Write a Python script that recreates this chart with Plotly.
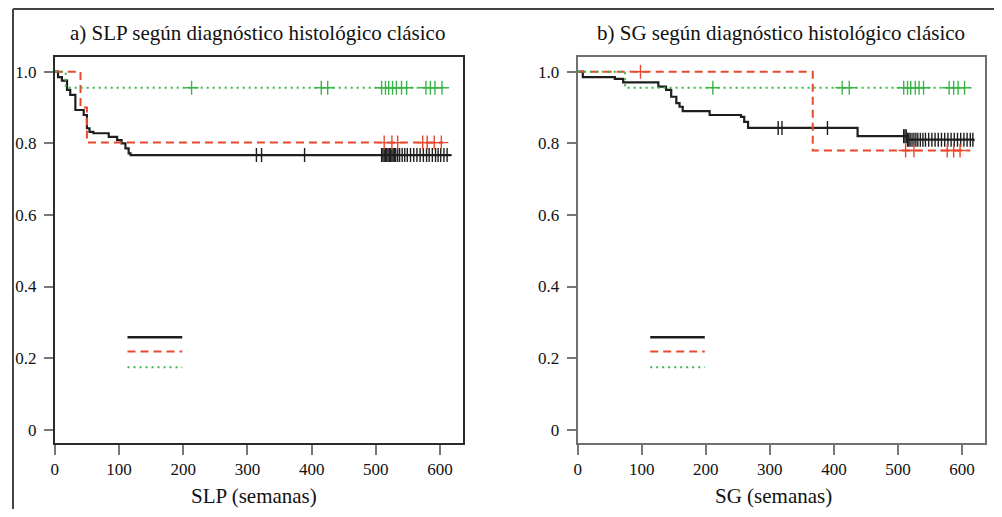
import numpy as np
import plotly.graph_objects as go

FONT = "Liberation Serif"
BLACK = "#1e1e1e"
RED = "#e8492e"
GREEN = "#3bb54a"

# --- SLP (panel a): step times and survival after each step ---
slp_black_t = [0, 5, 11, 19, 24, 32, 45, 50, 54, 60, 84, 97, 104, 110, 115, 118, 618]
slp_black_s = [1.0, 0.985, 0.975, 0.949, 0.935, 0.893, 0.879, 0.842, 0.832, 0.828, 0.818, 0.809, 0.80, 0.786, 0.772, 0.767, 0.767]
slp_black_cens = [314, 322, 389, 509, 511, 513, 515, 517, 519, 521, 523, 525, 527, 529, 531, 534, 537,
                  541, 545, 549, 554, 559, 564, 569, 574, 579, 583, 588, 593, 597, 601, 606, 611]

slp_red_t = [0, 40, 50, 605]
slp_red_s = [1.0, 0.90, 0.802, 0.802]
slp_red_cens = [513, 525, 534, 573, 580, 591, 602]

slp_green_t = [0, 17, 608]
slp_green_s = [1.0, 0.955, 0.955]
slp_green_cens = [213, 415, 425, 509, 515, 520, 526, 532, 540, 548, 578, 585, 592, 603]

# --- SG (panel b) ---
sg_black_t = [0, 8, 58, 71, 126, 138, 146, 154, 159, 164, 206, 255, 260, 266, 437, 515, 618]
sg_black_s = [1.0, 0.985, 0.980, 0.970, 0.958, 0.949, 0.930, 0.912, 0.902, 0.890, 0.879, 0.874, 0.860, 0.843, 0.820, 0.810, 0.806]
sg_black_cens = [313, 319, 390, 509, 511, 513, 515, 517, 519, 522, 525, 528, 531, 535, 539, 543, 548,
                 553, 558, 563, 568, 573, 578, 583, 588, 593, 598, 603, 608, 613, 617]

sg_red_t = [0, 367, 613]
sg_red_s = [1.0, 0.78, 0.78]
sg_red_cens = [98, 512, 525, 577, 587, 597]

sg_green_t = [0, 74, 613]
sg_green_s = [1.0, 0.955, 0.955]
sg_green_cens = [211, 413, 424, 509, 515, 520, 527, 533, 540, 580, 587, 594, 604]

y_ticks = [0, 0.2, 0.4, 0.6, 0.8, 1.0]
y_ticktext = ["0", "0.2", "0.4", "0.6", "0.8", "1.0"]
x_ticks = [0, 100, 200, 300, 400, 500, 600]

# page body adds an 8px margin, so the figure is sized to fit inside the window
OFF = 8
W, H = 1002 - 2 * OFF, 517 - 2 * OFF


def px(x):
    return (x - OFF) / W


def py(y):
    return 1 - (y - OFF) / H


def surv_at(times, surv, t):
    idx = np.searchsorted(np.array(times), np.array(t), side="right") - 1
    return np.array(surv)[idx]


def add_km(fig, times, surv, cens, color, dash, xa, ya, symbol):
    fig.add_trace(go.Scatter(
        x=times, y=surv, mode="lines", line_shape="hv",
        line=dict(color=color, width=2.2 if color == BLACK else 2, dash=dash),
        xaxis=xa, yaxis=ya, showlegend=False, hoverinfo="skip"
    ))
    fig.add_trace(go.Scatter(
        x=cens, y=surv_at(times, surv, cens), mode="markers",
        marker=dict(symbol=symbol, size=10, color=color, line=dict(color=color, width=1.4)),
        xaxis=xa, yaxis=ya, showlegend=False, hoverinfo="skip"
    ))


fig = go.Figure()
add_km(fig, slp_black_t, slp_black_s, slp_black_cens, BLACK, "solid", "x", "y", "line-ns-open")
add_km(fig, slp_red_t, slp_red_s, slp_red_cens, RED, "8px,5px", "x", "y", "cross-thin-open")
add_km(fig, slp_green_t, slp_green_s, slp_green_cens, GREEN, "2px,4px", "x", "y", "cross-thin-open")
add_km(fig, sg_black_t, sg_black_s, sg_black_cens, BLACK, "solid", "x2", "y2", "line-ns-open")
add_km(fig, sg_red_t, sg_red_s, sg_red_cens, RED, "8px,5px", "x2", "y2", "cross-thin-open")
add_km(fig, sg_green_t, sg_green_s, sg_green_cens, GREEN, "2px,4px", "x2", "y2", "cross-thin-open")


def xaxis(dom, frame, anchor):
    return dict(domain=dom, range=[0, 636], anchor=anchor, tickvals=x_ticks, ticks="outside",
                ticklen=10, tickwidth=2, tickcolor="#777", showline=True, linecolor=frame,
                linewidth=2, mirror=True, showgrid=False, zeroline=False,
                tickfont=dict(family=FONT, size=17, color="#111"))


def yaxis(anchor, frame):
    return dict(domain=[py(443), py(57)], range=[-0.037, 1.041], anchor=anchor,
                tickvals=y_ticks, ticktext=y_ticktext, ticks="outside", ticklen=9,
                tickwidth=2, tickcolor="#777", showline=True, linecolor=frame, linewidth=2,
                mirror=True, showgrid=False, zeroline=False, ticklabelstandoff=4,
                tickfont=dict(family=FONT, size=17, color="#111"))


fig.update_layout(
    width=W, height=H,
    margin=dict(l=0, r=0, t=0, b=0),
    paper_bgcolor="white", plot_bgcolor="white",
    xaxis=xaxis([px(51), px(461)], "#2a2a2a", "y"),
    yaxis=yaxis("x", "#2a2a2a"),
    xaxis2=xaxis([px(576), px(985)], "#707070", "y2"),
    yaxis2=yaxis("x2", "#707070"),
)

# panel titles and axis titles
texts = [
    ("a) SLP según diagnóstico histológico clásico", 255, 33),
    ("b) SG según diagnóstico histológico clásico", 780, 33),
    ("SLP (semanas)", 251, 496),
    ("SG (semanas)", 773, 496),
]
for txt, tx, ty in texts:
    fig.add_annotation(text=txt, x=px(tx), y=py(ty), xref="paper", yref="paper",
                       showarrow=False, xanchor="center", yanchor="middle",
                       font=dict(family=FONT, size=21, color="#111"))

# legend samples (no labels in the original)
for xa, ya in [("x", "y"), ("x2", "y2")]:
    for color, dash, yd in [(BLACK, "solid", 0.274), (RED, "8px,5px", 0.237), (GREEN, "2px,4px", 0.196)]:
        fig.add_shape(type="line", xref=f"{xa} domain", yref=f"{ya} domain",
                      x0=0.178, x1=0.312, y0=yd, y1=yd,
                      line=dict(color=color, width=2.5 if color == BLACK else 2, dash=dash))

# outer frame (top and left edges visible)
fig.add_shape(type="line", xref="paper", yref="paper", x0=1 / W, x1=1, y0=1 - 1 / H, y1=1 - 1 / H,
              line=dict(color="#444", width=2))
fig.add_shape(type="line", xref="paper", yref="paper", x0=1 / W, x1=1 / W, y0=0, y1=1 - 1 / H,
              line=dict(color="#444", width=2))

fig.write_html("out.html")
